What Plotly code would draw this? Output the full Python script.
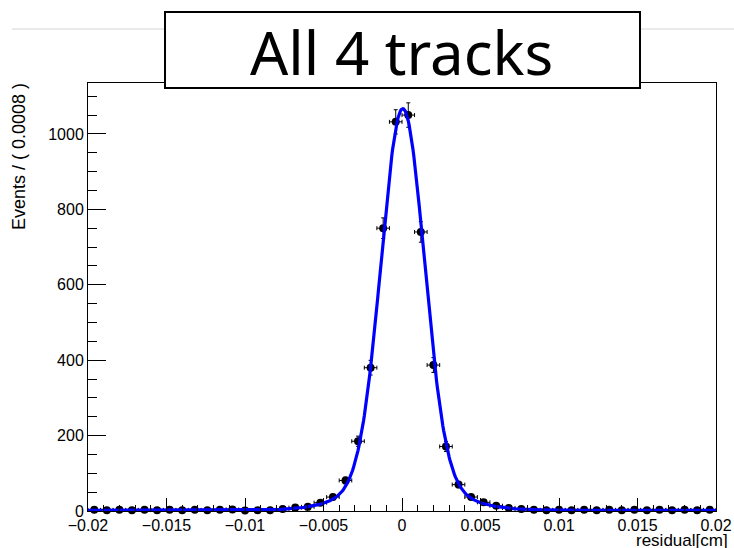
import numpy as np
import plotly.graph_objects as go

# ---- data ----
bin_width = 0.0008
bin_centers = [round(-0.0196 + bin_width * i, 5) for i in range(50)]
counts = [3, 2, 3, 2, 3, 2, 3, 2, 3, 2,
          3, 4, 1, 2, 2, 5, 9, 11, 22, 37,
          81, 185, 380, 750, 1032, 1050, 740, 387, 171, 70,
          37, 23, 14, 8, 5, 3, 2, 3, 2, 3,
          2, 3, 2, 3, 2, 3, 2, 3, 2, 3]

# fit model parameters (double gaussian + constant)
fit_mean = 0.00005
fit_amp1, fit_sigma1 = 985.0, 0.00136
fit_amp2, fit_sigma2 = 80.0, 0.0029
fit_const = 2.0

x_ticks = [-0.02, -0.015, -0.01, -0.005, 0, 0.005, 0.01, 0.015, 0.02]
x_ticklabels = ["\u22120.02", "\u22120.015", "\u22120.01", "\u22120.005", "0", "0.005", "0.01", "0.015", "0.02"]
y_ticks = [0, 200, 400, 600, 800, 1000]

title_text = "All 4 tracks"
y_title = "Events / ( 0.0008 )"
x_title = "residual[cm]"

# ---- build ----
counts_arr = np.array(counts, dtype=float)
xf = np.linspace(-0.02, 0.02, 801)
yf = (fit_amp1 * np.exp(-0.5 * ((xf - fit_mean) / fit_sigma1) ** 2)
      + fit_amp2 * np.exp(-0.5 * ((xf - fit_mean) / fit_sigma2) ** 2)
      + fit_const)

fig = go.Figure()
fig.add_trace(go.Scatter(
    x=bin_centers, y=counts, mode="markers",
    marker=dict(color="black", size=8),
    error_y=dict(type="data", array=np.sqrt(counts_arr), color="black", thickness=1, width=2),
    error_x=dict(type="constant", value=bin_width / 2, color="black", thickness=1, width=2),
    showlegend=False, cliponaxis=False,
))
fig.add_trace(go.Scatter(
    x=xf, y=yf, mode="lines", line=dict(color="#0000ff", width=3.2),
    showlegend=False,
))

W, H = 734, 548
# frame in page pixels
FL, FR, FT, FB = 88, 716, 83, 511
L, R, T, B = FL, W - FR, FT, H - FB

def px(xp):
    return (xp - FL) / (FR - FL)

def py(yp):
    return (FB - yp) / (FB - FT)

tickfont = dict(family="Liberation Sans, Arial, sans-serif", size=16, color="black")

fig.update_layout(
    width=W, height=H, margin=dict(l=L, r=R, t=T, b=B, autoexpand=False),
    paper_bgcolor="white", plot_bgcolor="white",
    xaxis=dict(range=[-0.02, 0.02], tickvals=x_ticks, ticktext=x_ticklabels, automargin=False,
               ticks="inside", ticklen=13, tickcolor="black", tickwidth=1,
               minor=dict(dtick=0.001, tick0=0, ticks="inside", ticklen=6, tickcolor="black"),
               showline=True, mirror=True, linecolor="black", linewidth=1,
               showgrid=False, zeroline=False, tickfont=tickfont),
    yaxis=dict(range=[0, 1135], tickvals=y_ticks, automargin=False,
               ticks="inside", ticklen=18, tickcolor="black", tickwidth=1,
               minor=dict(dtick=50, tick0=0, ticks="inside", ticklen=9, tickcolor="black"),
               showline=True, mirror=True, linecolor="black", linewidth=1,
               showgrid=False, zeroline=False, tickfont=tickfont),
    shapes=[
        dict(type="line", xref="paper", yref="paper", x0=px(12), x1=px(W), y0=py(29), y1=py(29),
             line=dict(color="#d4d4d4", width=1), layer="above"),
        dict(type="rect", xref="paper", yref="paper", x0=px(165), x1=px(640), y0=py(88), y1=py(12),
             fillcolor="white", line=dict(color="black", width=2), layer="above"),
    ],
    annotations=[
        dict(text=title_text, xref="paper", yref="paper", x=px(401), y=py(52),
             xanchor="center", yanchor="middle", showarrow=False,
             font=dict(family="Noto Sans", size=60, color="black")),
        dict(text=y_title, xref="paper", yref="paper", x=px(19), y=py(157), textangle=-90,
             xanchor="center", yanchor="middle", showarrow=False,
             font=dict(family="Liberation Sans, Arial, sans-serif", size=18, color="black")),
        dict(text=x_title, xref="paper", yref="paper", x=px(730), y=py(540),
             xanchor="right", yanchor="middle", showarrow=False,
             font=dict(family="Liberation Sans, Arial, sans-serif", size=17, color="black")),
    ],
)

# remove the browser's default 8px body margin so the figure fills the window exactly
fig.write_html("out.html",
               config={"displayModeBar": False},
               post_script="document.body.style.margin='0';document.body.style.overflow='hidden';")
